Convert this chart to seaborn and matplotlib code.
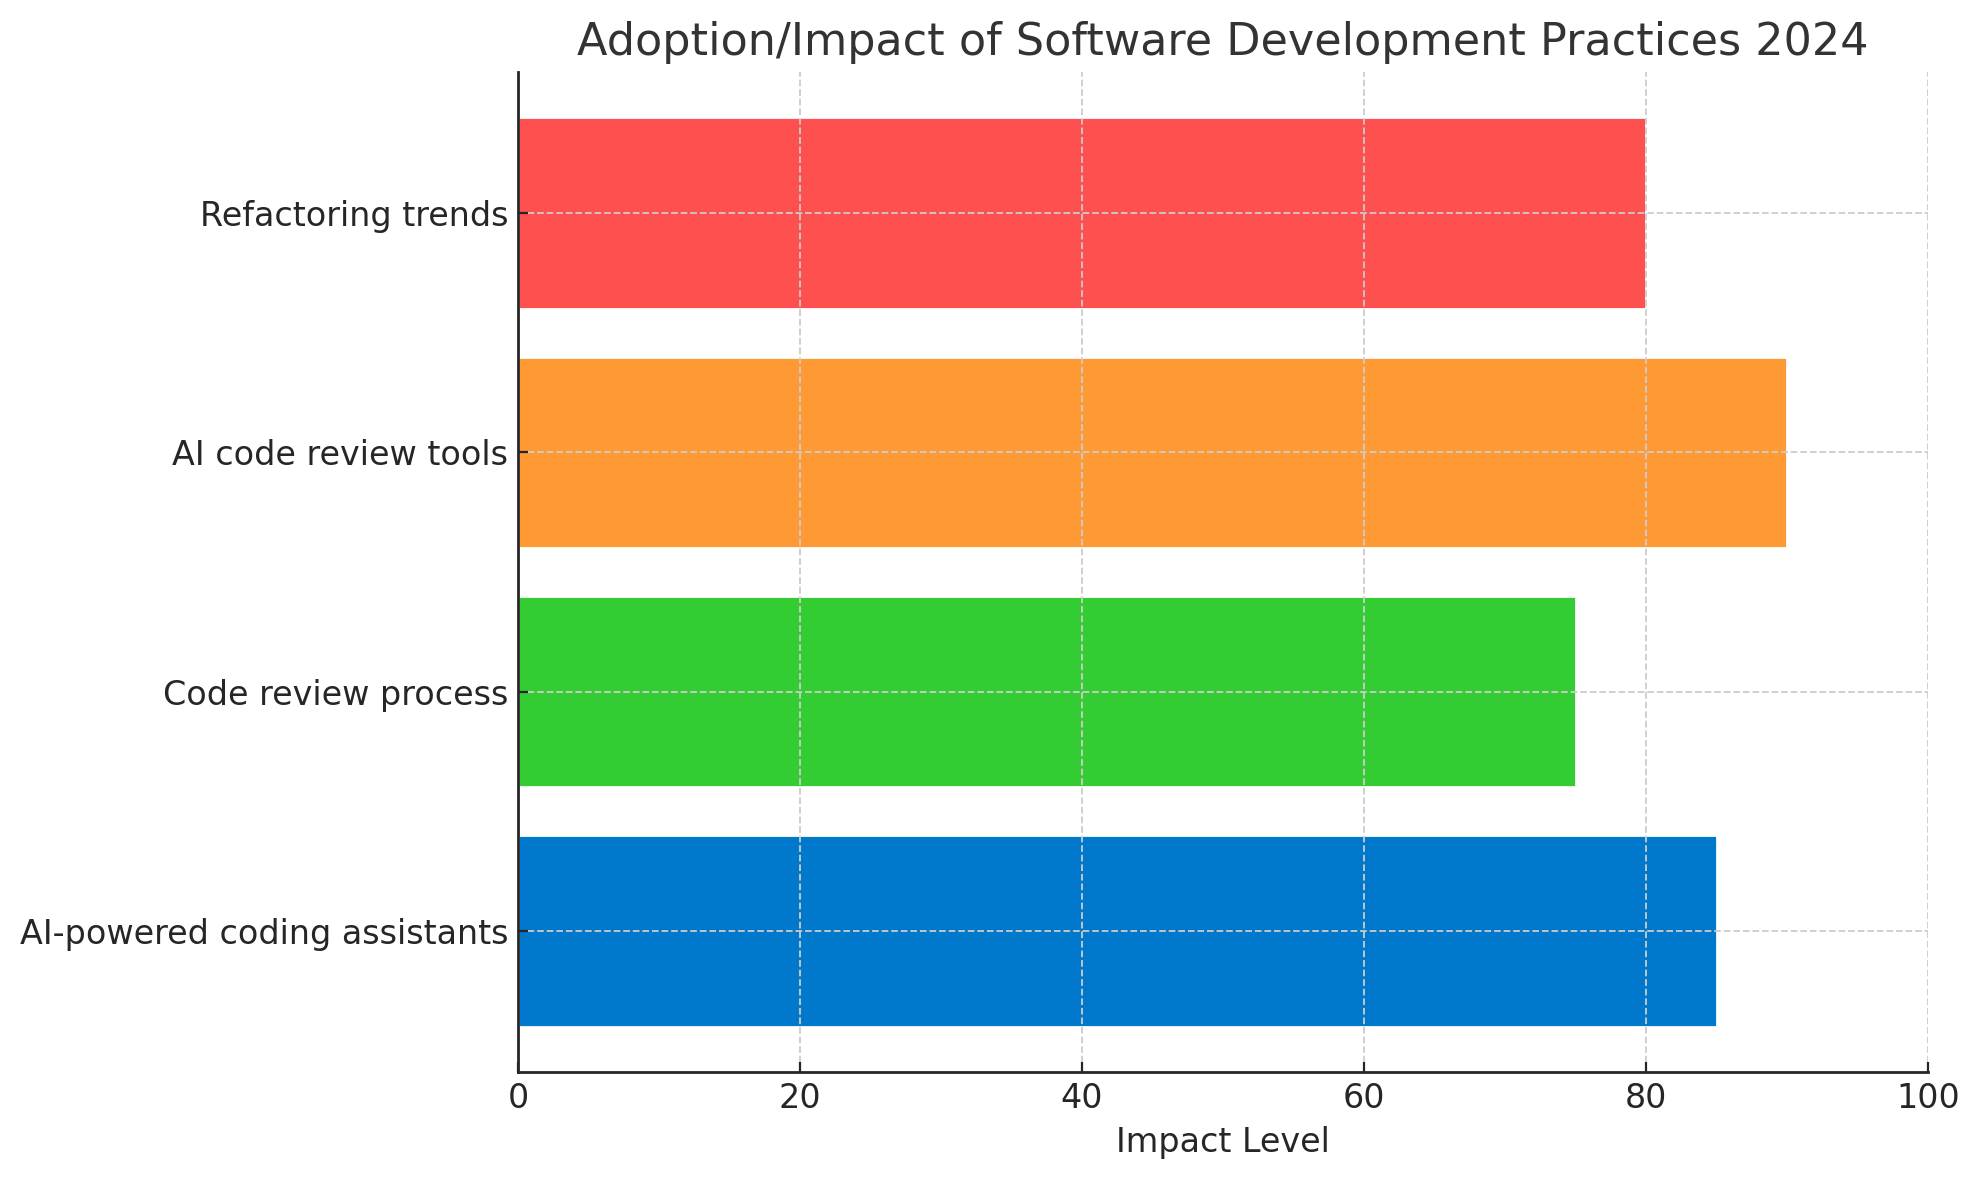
import matplotlib
matplotlib.use("Agg")
import matplotlib.pyplot as plt
import seaborn as sns
import pandas as pd

practices = ["AI-powered coding assistants", "Code review process",
             "AI code review tools", "Refactoring trends"]
impact = [85, 75, 90, 80]
colors = ["#0078CC", "#33CC33", "#FF9933", "#FF5050"]

sns.set_style("ticks")
plt.rcParams['font.family'] = ['DejaVu Sans']

df = pd.DataFrame({"Practice": practices, "Impact": impact})

fig, ax = plt.subplots(figsize=(1979/200, 1180/200), dpi=200)
fig.subplots_adjust(left=518/1979, right=1928/1979, top=1-72/1180, bottom=1-1072/1180)

sns.barplot(data=df, y="Practice", x="Impact", hue="Practice", order=practices,
            hue_order=practices, palette=colors, orient="h", width=0.8,
            saturation=1, legend=False, ax=ax)
ax.set_ylim(-0.59, 3.59)
ax.set_xlim(0, 100)
ax.set_xticks([0, 20, 40, 60, 80, 100])
ax.grid(True, linestyle="--", color="#cccccc", linewidth=0.65)
ax.set_axisbelow(False)
for s in ["top", "right"]:
    ax.spines[s].set_visible(False)
for s in ["left", "bottom"]:
    ax.spines[s].set_color("#262626")
    ax.spines[s].set_linewidth(1.0)
    ax.spines[s].set_zorder(5)
ax.tick_params(labelsize=12, colors="#262626", length=3.5, direction="in")
ax.set_xlabel("Impact Level", fontsize=12, color="#262626")
ax.set_ylabel("")
ax.set_title("Adoption/Impact of Software Development Practices 2024",
             fontsize=16, color="#333333")
fig.savefig("out.png", dpi=200)
